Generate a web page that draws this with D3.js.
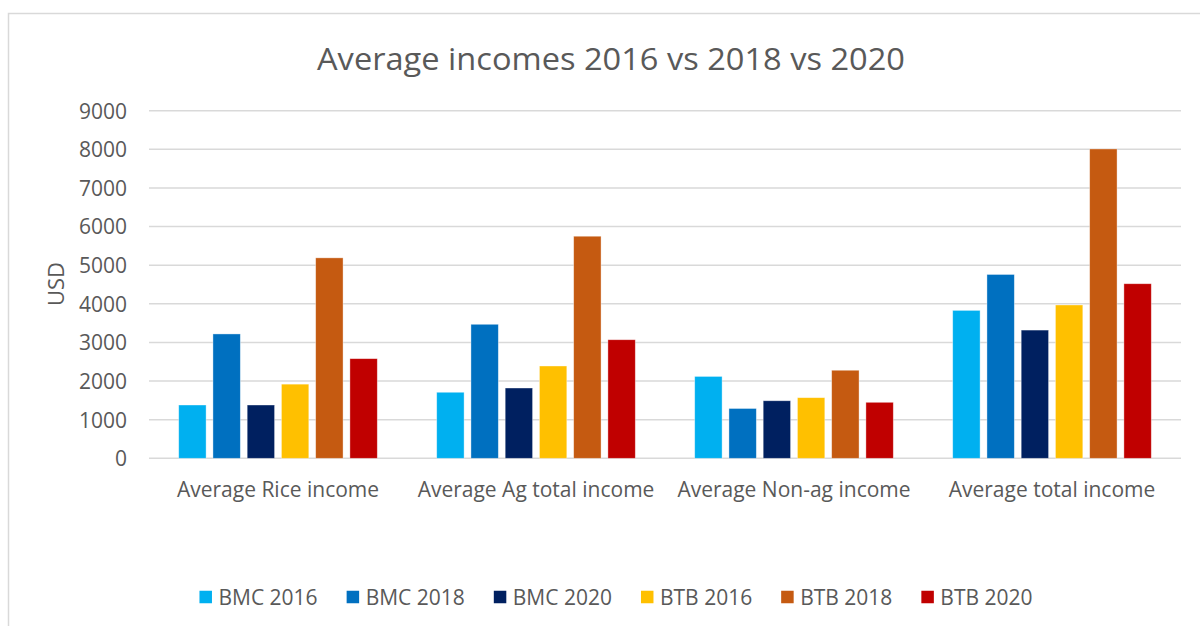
<!DOCTYPE html>
<html>
<head>
<meta charset="utf-8">
<script src="https://cdn.jsdelivr.net/npm/d3@7"></script>
<style>
  html, body { margin: 0; padding: 0; background: #fff; }
  svg { display: block; font-family: "Open Sans", "Noto Sans", sans-serif; }
</style>
</head>
<body>
<svg id="chart" width="1200" height="626"></svg>
<script>
// Income categories (x axis groups)
const categories = ["Average Rice income", "Average Ag total income", "Average Non-ag income", "Average total income"];

// Series names shown in the legend
const seriesNames = ["BMC 2016", "BMC 2018", "BMC 2020", "BTB 2016", "BTB 2018", "BTB 2020"];

// Values per series, one entry per category (USD)
const bmc2016 = [1380, 1710, 2120, 3830];
const bmc2018 = [3220, 3470, 1290, 4760];
const bmc2020 = [1380, 1820, 1490, 3320];
const btb2016 = [1920, 2390, 1570, 3970];
const btb2018 = [5190, 5750, 2280, 8010];
const btb2020 = [2580, 3070, 1450, 4520];

// Y axis ticks
const yTicks = [0, 1000, 2000, 3000, 4000, 5000, 6000, 7000, 8000, 9000];

const seriesValues = [bmc2016, bmc2018, bmc2020, btb2016, btb2018, btb2020];
const colors = ["#00B0F0", "#0070C0", "#002060", "#FFC000", "#C55A11", "#C00000"];

const svg = d3.select("#chart");
const textColor = "#595959";

// Outer chart frame
svg.append("path")
  .attr("d", "M8.5,626 V13.5 H1200")
  .attr("fill", "none")
  .attr("stroke", "#d9d9d9")
  .attr("stroke-width", 1.5);

// Title
svg.append("text")
  .attr("x", 611)
  .attr("y", 70)
  .attr("text-anchor", "middle")
  .attr("font-size", 31)
  .attr("fill", textColor)
  .attr("textLength", 588)
  .attr("lengthAdjust", "spacingAndGlyphs")
  .text("Average incomes 2016 vs 2018 vs 2020");

// Scales
const plotLeft = 149, plotRight = 1181;
const y = d3.scaleLinear().domain([0, 9000]).range([458.3, 110.7]);
const x0 = d3.scaleBand().domain(categories).range([plotLeft, plotRight]).padding(0);
const groupPad = (x0.bandwidth() - 198.6) / 2;
const x1 = d3.scaleBand().domain(seriesNames)
  .range([groupPad, x0.bandwidth() - groupPad])
  .paddingInner(0.2).paddingOuter(0);

// Gridlines
svg.append("g")
  .selectAll("line")
  .data(yTicks)
  .join("line")
  .attr("x1", plotLeft)
  .attr("x2", plotRight)
  .attr("y1", d => y(d))
  .attr("y2", d => y(d))
  .attr("stroke", "#d9d9d9")
  .attr("stroke-width", 1.5);

// Y axis labels
const yAxis = d3.axisLeft(y).tickValues(yTicks).tickFormat(d3.format("d")).tickSize(0).tickPadding(0);
const yAxisG = svg.append("g")
  .attr("transform", "translate(127,0)")
  .call(yAxis);
yAxisG.select(".domain").remove();
yAxisG.selectAll("text")
  .attr("font-family", "'Open Sans', sans-serif")
  .attr("font-size", 21)
  .attr("fill", textColor)
  .attr("dy", "0.35em");

// Y axis title
svg.append("text")
  .attr("transform", "translate(63.5,284) rotate(-90)")
  .attr("text-anchor", "middle")
  .attr("font-size", 22)
  .attr("fill", textColor)
  .text("USD");

// Bars
const groups = svg.append("g")
  .selectAll("g")
  .data(categories)
  .join("g")
  .attr("transform", d => `translate(${x0(d)},0)`);

groups.selectAll("rect")
  .data((cat, ci) => seriesNames.map((s, si) => ({ s, si, v: seriesValues[si][ci] })))
  .join("rect")
  .attr("x", d => x1(d.s))
  .attr("width", x1.bandwidth())
  .attr("y", d => y(d.v))
  .attr("height", d => y(0) - y(d.v))
  .attr("fill", d => colors[d.si])
  .attr("stroke", "#ffffff")
  .attr("stroke-opacity", 0.5)
  .attr("stroke-width", 0.75);

// Category labels
const xAxis = d3.axisBottom(x0).tickSize(0).tickPadding(0);
const xAxisG = svg.append("g")
  .attr("transform", `translate(0,${y(0)})`)
  .call(xAxis);
xAxisG.select(".domain").remove();
xAxisG.selectAll("text")
  .attr("font-family", "'Open Sans', sans-serif")
  .attr("font-size", 21)
  .attr("fill", textColor)
  .attr("y", 39)
  .attr("dy", 0);

// Legend
const legend = svg.append("g");
const items = legend.selectAll("g")
  .data(seriesNames)
  .join("g");
items.append("rect")
  .attr("width", 12.5)
  .attr("height", 12.5)
  .attr("y", -6.25)
  .attr("fill", (d, i) => colors[i]);
items.append("text")
  .attr("x", 19)
  .attr("y", 7.5)
  .attr("font-size", 21)
  .attr("fill", textColor)
  .text(d => d);

let cursor = 0;
items.each(function () {
  const g = d3.select(this);
  g.attr("transform", `translate(${cursor},0)`);
  const w = 19 + g.select("text").node().getComputedTextLength();
  cursor += w + 29;
});
const legendWidth = cursor - 29;
legend.attr("transform", `translate(${616 - legendWidth / 2},597)`);
</script>
</body>
</html>
